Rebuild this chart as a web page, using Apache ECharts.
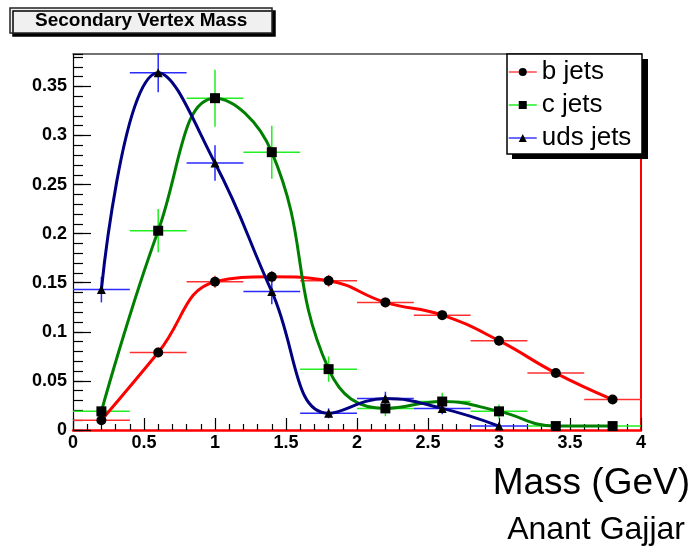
<!DOCTYPE html>
<html>
<head>
<meta charset="utf-8">
<script src="https://cdn.jsdelivr.net/npm/echarts@6/dist/echarts.min.js"></script>
<style>
html,body{margin:0;padding:0;background:#fff;}
#chart{width:694px;height:552px;}
</style>
</head>
<body>
<div id="chart"></div>
<script>
// ---- data ----
const xBins   = [0.2, 0.6, 1.0, 1.4, 1.8, 2.2, 2.6, 3.0, 3.4, 3.8];
const binHalfWidth = 0.2;
const bJets   = [0.010, 0.079, 0.151, 0.156, 0.152, 0.130, 0.117, 0.091, 0.058, 0.031];
const bErr    = [0.003, 0.005, 0.006, 0.006, 0.006, 0.005, 0.005, 0.005, 0.004, 0.003];
const cJets   = [0.019, 0.203, 0.338, 0.283, 0.062, 0.022, 0.029, 0.019, 0.004, 0.004];
const cErr    = [0.005, 0.022, 0.029, 0.027, 0.013, 0.008, 0.009, 0.007, 0.003, 0.003];
const udsJets = [0.143, 0.364, 0.272, 0.141, 0.017, 0.032, 0.022, 0.004];
const udsErr  = [0.013, 0.020, 0.018, 0.013, 0.005, 0.007, 0.006, 0.002];
const xTicks  = [0, 0.5, 1, 1.5, 2, 2.5, 3, 3.5, 4];
const yTicks  = [0, 0.05, 0.1, 0.15, 0.2, 0.25, 0.3, 0.35];
const yMax = 0.383;

const FONT = "'Liberation Sans', Arial, Helvetica, sans-serif";

function pts(vals){ return vals.map((v,i)=>[xBins[i], v]); }
function errPts(vals, errs){ return vals.map((v,i)=>[xBins[i], v, errs[i]]); }

function errSeries(name, vals, errs, color){
  return {
    name: name, type: 'custom', z: 1, silent: true,
    data: errPts(vals, errs),
    renderItem: function(params, api){
      const x = api.value(0), y = api.value(1), e = api.value(2);
      const pL = api.coord([x - binHalfWidth, y]);
      const pR = api.coord([x + binHalfWidth, y]);
      const pT = api.coord([x, y + e]);
      const pB = api.coord([x, Math.max(0, y - e)]);
      const st = {stroke: color, lineWidth: 1.5};
      return {type:'group', children:[
        {type:'line', shape:{x1:pL[0], y1:pL[1], x2:pR[0], y2:pR[1]}, style: st},
        {type:'line', shape:{x1:pT[0], y1:pT[1], x2:pB[0], y2:pB[1]}, style: st}
      ]};
    }
  };
}

function lineSeries(name, vals, color, symbol, size){
  return {
    name: name, type: 'line', z: 3,
    data: pts(vals),
    smooth: 0.45,
    symbol: symbol, symbolSize: size,
    showAllSymbol: true,
    lineStyle: {color: color, width: 3},
    itemStyle: {color: '#000'},
    emphasis: {disabled: true}
  };
}

const chart = echarts.init(document.getElementById('chart'), null, {renderer: 'canvas'});
const option = {
  animation: false,
  backgroundColor: '#fff',
  title: {
    text: 'Secondary Vertex Mass',
    left: 10, top: 9,
    padding: [3, 25, 3, 25],
    backgroundColor: '#f0f0f0',
    borderColor: '#222', borderWidth: 1.5,
    shadowColor: '#000', shadowBlur: 0, shadowOffsetX: 3, shadowOffsetY: 3,
    textStyle: {fontFamily: FONT, fontWeight: 'bold', fontSize: 19, color: '#000', lineHeight: 17}
  },
  legend: {
    left: 507, top: 54, z: 100,
    orient: 'vertical',
    padding: [5, 12, 3, 1],
    itemGap: 7,
    itemWidth: 28, itemHeight: 10,
    textStyle: {fontFamily: FONT, fontSize: 26, color: '#000', lineHeight: 26},
    data: [
      {name: 'b jets', lineStyle: {color: '#ff4a4a', width: 1.5}, itemStyle: {color: '#000'}},
      {name: 'c jets', lineStyle: {color: '#22ee22', width: 1.5}, itemStyle: {color: '#000'}},
      {name: 'uds jets', lineStyle: {color: '#3a3aff', width: 1.5}, itemStyle: {color: '#000'}}
    ]
  },
  grid: {left: 73, right: 53, top: 54, bottom: 122},
  xAxis: [
    {
      type: 'value', position: 'bottom', min: 0, max: 4, interval: 0.5,
      axisLine: {show: true, onZero: false, lineStyle: {color: '#ff0000', width: 2.5}},
      axisTick: {show: true, inside: true, length: 12, lineStyle: {color: '#000', width: 1.2}},
      minorTick: {show: true, splitNumber: 5, length: 6, lineStyle: {color: '#000', width: 1.2}},
      splitLine: {show: false},
      axisLabel: {fontFamily: FONT, fontWeight: 'bold', fontSize: 18, color: '#000', margin: 4,
        formatter: function(v){ return xTicks.indexOf(v) >= 0 ? String(v) : ''; }}
    },
    {
      type: 'value', position: 'top', min: 0, max: 4,
      axisLine: {show: true, onZero: false, lineStyle: {color: '#444', width: 1.5}},
      axisTick: {show: false}, axisLabel: {show: false}, splitLine: {show: false}
    }
  ],
  yAxis: [
    {
      type: 'value', position: 'left', min: 0, max: yMax, interval: 0.05,
      axisLine: {show: true, onZero: false, lineStyle: {color: '#000', width: 1.2}},
      axisTick: {show: true, inside: true, length: 18, lineStyle: {color: '#000', width: 1.2}},
      splitLine: {show: false},
      axisLabel: {fontFamily: FONT, fontWeight: 'bold', fontSize: 18, color: '#000', margin: 6,
        showMaxLabel: false,
        formatter: function(v){
          const r = Math.round(v * 100) / 100;
          return yTicks.indexOf(r) >= 0 && Math.abs(v - r) < 1e-6 ? String(r) : '';
        }}
    },
    {
      type: 'value', position: 'left', min: 0, max: yMax, interval: 0.01,
      axisLine: {show: false},
      axisTick: {show: true, inside: true, length: 10, lineStyle: {color: '#000', width: 1.2}},
      axisLabel: {show: false}, splitLine: {show: false}
    },
    {
      type: 'value', position: 'right', min: 0, max: yMax,
      axisLine: {show: true, onZero: false, lineStyle: {color: '#ff0000', width: 2}},
      axisTick: {show: false}, axisLabel: {show: false}, splitLine: {show: false}
    }
  ],
  graphic: [
    {type: 'rect', z: 50, shape: {x: 512, y: 59, width: 136, height: 100}, style: {fill: '#000'}},
    {type: 'rect', z: 51, shape: {x: 507, y: 54, width: 135, height: 100}, style: {fill: '#fff', stroke: '#000', lineWidth: 1.5}},
    {type: 'text', right: 4, top: 465, style: {text: 'Mass (GeV)', font: "37px 'Liberation Sans', Arial, sans-serif", fill: '#000'}},
    {type: 'text', right: 9, top: 514, style: {text: 'Anant Gajjar', font: "32px 'Liberation Sans', Arial, sans-serif", fill: '#000'}}
  ],
  series: [
    errSeries('b err', bJets, bErr, '#ff3030'),
    errSeries('c err', cJets, cErr, '#22ee22'),
    errSeries('uds err', udsJets, udsErr, '#2a2aff'),
    lineSeries('b jets', bJets, '#ff0000', 'circle', 10),
    lineSeries('c jets', cJets, '#008000', 'rect', 10),
    lineSeries('uds jets', udsJets, '#000080', 'triangle', 9)
  ]
};
chart.setOption(option);
</script>
</body>
</html>
